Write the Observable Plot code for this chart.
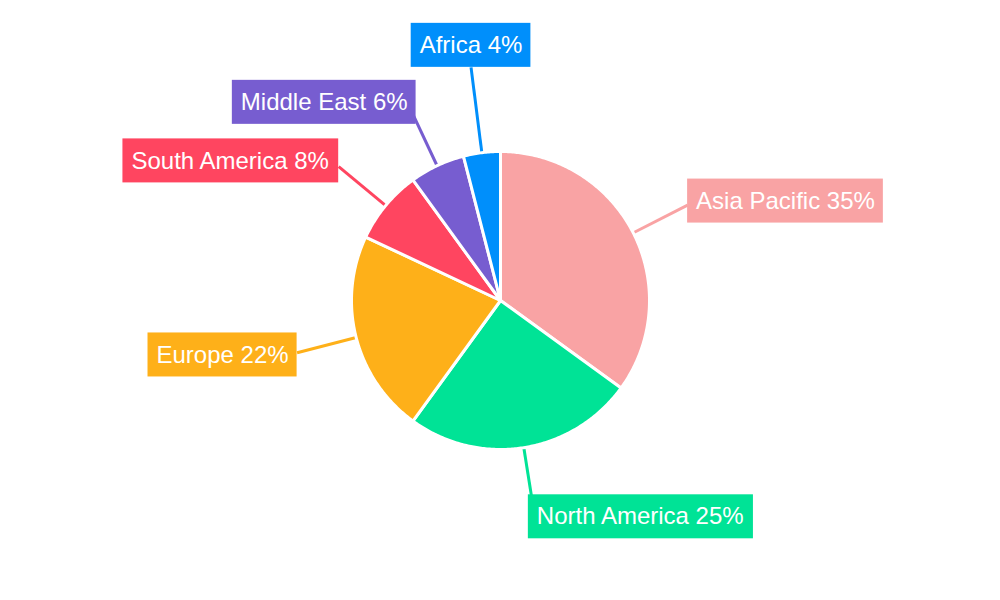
<!DOCTYPE html>
<html>
<head>
<meta charset="utf-8">
<script src="https://cdn.jsdelivr.net/npm/d3@7"></script>
<script src="https://cdn.jsdelivr.net/npm/@observablehq/plot@0.6"></script>
<style>
  html, body { margin: 0; padding: 0; background: #ffffff; }
  #chart { width: 1000px; height: 600px; }
</style>
</head>
<body>
<div id="chart"></div>
<script>
// ---- data ----
const regions = ["Asia Pacific", "North America", "Europe", "South America", "Middle East", "Africa"];
const shares = [35, 25, 22, 8, 6, 4];
const colors = ["#F9A3A4", "#00E396", "#FEB019", "#FF4560", "#775DD0", "#008FFB"];

// ---- layout ----
const W = 1000, H = 600;
const R = 149;          // pie radius
const FONT = "'Liberation Sans', Arial, Helvetica, sans-serif";
const FS = 24;
const PADX = 8.5, BOXH = 44;

const pie = d3.pie().sort(null).value(d => d)(shares);

// slice polygons, sampled along the arc
const slicePts = [];
pie.forEach((p, i) => {
  const reg = regions[i];
  slicePts.push({x: 0, y: 0, region: reg});
  const n = Math.max(8, Math.ceil((p.endAngle - p.startAngle) / 0.01));
  for (let k = 0; k <= n; k++) {
    const a = p.startAngle + (p.endAngle - p.startAngle) * k / n;
    slicePts.push({x: Math.sin(a) * R, y: -Math.cos(a) * R, region: reg});
  }
  slicePts.push({x: 0, y: 0, region: reg});
});

// text measurement
const ctx = document.createElement("canvas").getContext("2d");
ctx.font = `${FS}px ${FONT}`;

const labels = pie.map((p, i) => {
  const a = (p.startAngle + p.endAngle) / 2;
  const s = Math.sin(a), c = Math.cos(a);
  const text = `${regions[i]} ${shares[i]}%`;
  const w = ctx.measureText(text).width + 2 * PADX;
  const anchor = s > 0.14 ? "start" : s < -0.14 ? "end" : "middle";
  const rEnd = anchor === "middle" ? 235 : 210;
  const x1 = s * (R - 2), y1 = -c * (R - 2);
  const x2 = s * rEnd, y2 = -c * rEnd;
  let bx1, by1;
  if (anchor === "middle") {
    bx1 = x2 - w / 2;
    by1 = c > 0 ? y2 - BOXH : y2;
  } else {
    // labels near the bottom/top tuck their box slightly back under the leader
    const shift = Math.abs(c) > 0.9 ? 5 : 0;
    bx1 = anchor === "start" ? x2 - shift : x2 - w + shift;
    by1 = y2 - 9 * c - BOXH / 2;
  }
  return {
    region: regions[i], text,
    x1, y1, x2, y2,
    bx1, bx2: bx1 + w, by1, by2: by1 + BOXH,
    tx: bx1 + PADX, ty: by1 + BOXH / 2
  };
});

const chart = Plot.plot({
  width: W,
  height: H,
  margin: 0,
  style: {fontFamily: FONT, background: "#ffffff"},
  x: {domain: [-W / 2, W / 2], range: [0, W], axis: null},
  y: {domain: [-H / 2, H / 2], range: [0, H], axis: null},
  color: {domain: regions, range: colors},
  marks: [
    Plot.link(labels, {x1: "x1", y1: "y1", x2: "x2", y2: "y2", stroke: "region", strokeWidth: 3}),
    Plot.line(slicePts, {x: "x", y: "y", z: "region", fill: "region", stroke: "#ffffff", strokeWidth: 3, strokeLinejoin: "round"}),
    Plot.rect(labels, {x1: "bx1", x2: "bx2", y1: "by1", y2: "by2", fill: "region"}),
    Plot.text(labels, {x: "tx", y: "ty", text: "text", fill: "#ffffff", textAnchor: "start", fontSize: FS, fontFamily: FONT})
  ]
});

document.getElementById("chart").appendChild(chart);
</script>
</body>
</html>
